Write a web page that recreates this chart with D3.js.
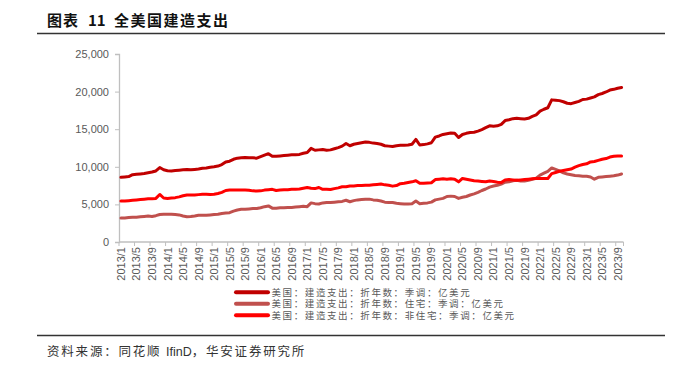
<!DOCTYPE html>
<html><head><meta charset="utf-8">
<script src="https://cdn.jsdelivr.net/npm/d3@7"></script>
<style>
html,body{margin:0;padding:0;background:#fff;}
svg{display:block;}
</style></head>
<body>
<svg id="c" width="683" height="368"></svg>
<script>
// ---- data (亿美元, monthly, 2013/1 - 2023/10) ----
const startYear = 2013, startMonth = 1, nMonths = 130;
const categories = [];
for (let k = 0; k < nMonths; k++) {
  const m = startMonth - 1 + k;
  categories.push((startYear + Math.floor(m / 12)) + "/" + (m % 12 + 1));
}
const yTicks = [0, 5000, 10000, 15000, 20000, 25000];
const seriesNames = [
  "美国：建造支出：折年数：季调：亿美元",
  "美国：建造支出：折年数：住宅：季调：亿美元",
  "美国：建造支出：折年数：非住宅：季调：亿美元"
];
const totalValues = [
8600, 8650, 8700, 8950, 9000, 9050, 9100, 9200, 9300, 9450, 9900, 9600,
9470, 9450, 9500, 9550, 9600, 9650, 9600, 9650, 9700, 9800, 9850, 9950,
10000, 10100, 10300, 10650, 10750, 11000, 11150, 11200, 11250, 11200, 11200, 11150,
11350, 11550, 11750, 11400, 11400, 11450, 11500, 11550, 11600, 11600, 11650, 11800,
11900, 12450, 12200, 12250, 12300, 12200, 12250, 12400, 12550, 12750, 13100, 12800,
13000, 13100, 13200, 13300, 13250, 13150, 13100, 13000, 12800, 12750, 12700, 12800,
12850, 12850, 12900, 13000, 13650, 12900, 12950, 13050, 13200, 13950, 14100, 14300,
14400, 14500, 14450, 13900, 14300, 14450, 14550, 14600, 14750, 14950, 15200, 15450,
15400, 15450, 15650, 16150, 16250, 16400, 16450, 16400, 16350, 16450, 16700, 16900,
17400, 17650, 17850, 18900, 18850, 18800, 18650, 18450, 18400, 18550, 18700, 18950,
19000, 19150, 19300, 19600, 19750, 19950, 20200, 20300, 20450, 20550];
const residentialValues = [
3200, 3200, 3250, 3300, 3300, 3350, 3400, 3450, 3400, 3500, 3650, 3700,
3700, 3700, 3650, 3600, 3450, 3350, 3380, 3450, 3550, 3550, 3550, 3600,
3650, 3700, 3800, 3850, 3900, 4100, 4250, 4350, 4350, 4400, 4450, 4450,
4550, 4700, 4800, 4500, 4500, 4550, 4550, 4600, 4600, 4650, 4700, 4750,
4700, 5200, 5100, 5050, 5200, 5250, 5250, 5300, 5350, 5400, 5550, 5350,
5500, 5600, 5650, 5700, 5700, 5600, 5550, 5450, 5300, 5250, 5250, 5150,
5100, 5050, 5050, 5100, 5450, 5100, 5150, 5200, 5300, 5600, 5700, 5800,
6050, 6100, 6050, 5800, 5950, 6050, 6250, 6400, 6600, 6850, 7050, 7300,
7450, 7550, 7700, 7950, 8000, 8150, 8200, 8100, 8100, 8200, 8350, 8500,
8900, 9150, 9400, 9850, 9650, 9450, 9200, 9050, 8950, 8850, 8800, 8750,
8750, 8650, 8350, 8600, 8650, 8700, 8750, 8800, 8900, 9050];
const nonResidentialValues = [
5450, 5450, 5500, 5550, 5600, 5650, 5700, 5750, 5750, 5800, 6320, 5850,
5800, 5850, 5900, 6000, 6150, 6250, 6250, 6250, 6300, 6350, 6350, 6320,
6350, 6450, 6600, 6850, 6900, 6900, 6920, 6930, 6900, 6880, 6800, 6780,
6800, 6900, 6950, 7000, 6850, 6900, 6950, 6950, 7000, 7000, 7050, 7150,
7250, 7150, 7100, 7250, 7000, 7000, 6980, 7100, 7200, 7350, 7350, 7450,
7450, 7500, 7500, 7550, 7550, 7600, 7650, 7700, 7600, 7550, 7430, 7500,
7750, 7800, 7900, 8000, 8150, 7800, 7800, 7850, 7880, 8300, 8350, 8400,
8350, 8400, 8350, 8000, 8450, 8350, 8250, 8150, 8100, 8050, 8000, 8100,
8050, 7950, 7900, 8250, 8300, 8250, 8200, 8250, 8300, 8350, 8400, 8450,
8450, 8450, 8450, 9100, 9250, 9400, 9500, 9600, 9700, 9950, 10150, 10300,
10400, 10650, 10700, 10850, 11000, 11100, 11300, 11400, 11450, 11450];

// ---- drawing ----
const svg = d3.select("#c");
const L = 119, R = 623.5, T = 54, B = 242;
const axisColor = "#BFBFBF", textColor = "#595959";
const colors = ["#C00000", "#C0504D", "#FF0000"];
const seriesList = [totalValues, residentialValues, nonResidentialValues];
const cjk = "'Noto Sans CJK SC', sans-serif";

// title
const title = svg.append("text").attr("y", 26)
  .attr("font-family", cjk).attr("font-weight", "bold")
  .attr("font-size", 15).attr("fill", "#111");
title.append("tspan").attr("x", 47).attr("letter-spacing", 1).text("图表");
title.append("tspan").attr("x", 88).text("11");
title.append("tspan").attr("x", 114).attr("letter-spacing", 1.5).text("全美国建造支出");
svg.append("line").attr("x1", 37).attr("x2", 665).attr("y1", 33.5).attr("y2", 33.5)
  .attr("stroke", "#333").attr("stroke-width", 1.3);

const x = d3.scaleBand().domain(d3.range(nMonths)).range([L, R]).paddingInner(0).paddingOuter(0);
const y = d3.scaleLinear().domain([0, 25000]).range([B, T]);

// y axis
const yAxis = svg.append("g").attr("transform", `translate(${L},0)`)
  .call(d3.axisLeft(y).tickValues(yTicks).tickSize(4).tickPadding(6).tickFormat(d3.format(",")));
yAxis.select(".domain").attr("stroke", axisColor).attr("stroke-width", 1.3);
yAxis.selectAll(".tick line").attr("stroke", axisColor);
yAxis.selectAll("text").attr("fill", textColor).attr("font-size", 11)
  .attr("font-family", "'Liberation Sans', Arial, sans-serif");

// x axis
const labelIdx = d3.range(0, nMonths, 4);
const xg = svg.append("g");
xg.append("line").attr("x1", L).attr("x2", R).attr("y1", B).attr("y2", B)
  .attr("stroke", axisColor).attr("stroke-width", 1.3);
xg.selectAll("line.tk").data(labelIdx.concat([nMonths])).enter().append("line")
  .attr("class", "tk")
  .attr("x1", d => d < nMonths ? x(d) : R).attr("x2", d => d < nMonths ? x(d) : R)
  .attr("y1", B).attr("y2", B + 4).attr("stroke", axisColor);
xg.selectAll("text").data(labelIdx).enter().append("text")
  .attr("transform", d => `translate(${x(d) + x.bandwidth() / 2 + 4},${B + 5}) rotate(-90)`)
  .attr("text-anchor", "end").attr("font-size", 11).attr("fill", textColor)
  .attr("font-family", "'Liberation Sans', Arial, sans-serif")
  .text(d => categories[d]);

// lines
const line = d3.line().x((d, i) => x(i) + x.bandwidth() / 2).y(d => y(d));
seriesList.forEach((s, k) => {
  svg.append("path").datum(s).attr("d", line).attr("fill", "none")
    .attr("stroke", colors[k]).attr("stroke-width", 3)
    .attr("stroke-linejoin", "round").attr("stroke-linecap", "round");
});

// legend
seriesNames.forEach((name, k) => {
  const ly = 292.3 + k * 11.5;
  svg.append("line").attr("x1", 236).attr("x2", 268).attr("y1", ly).attr("y2", ly)
    .attr("stroke", colors[k]).attr("stroke-width", 4).attr("stroke-linecap", "round");
  svg.append("text").attr("x", 271.5).attr("y", ly + 3.5).attr("font-size", 9.5)
    .attr("letter-spacing", 1.6)
    .attr("font-family", "'Liberation Sans', 'Noto Sans CJK SC', sans-serif").attr("fill", textColor)
    .text(name);
});

// footer
svg.append("line").attr("x1", 37).attr("x2", 665).attr("y1", 335.5).attr("y2", 335.5)
  .attr("stroke", "#333").attr("stroke-width", 1.3);
const foot = svg.append("text").attr("x", 47).attr("y", 356).attr("font-size", 12.5)
  .attr("font-family", cjk).attr("fill", "#333");
foot.append("tspan").attr("letter-spacing", 1.8).text("资料来源：同花顺 ");
foot.append("tspan").attr("font-family", "'Liberation Sans', Arial, sans-serif").text("IfinD");
foot.append("tspan").attr("letter-spacing", 1.8).text("，华安证券研究所");
</script>
</body></html>
